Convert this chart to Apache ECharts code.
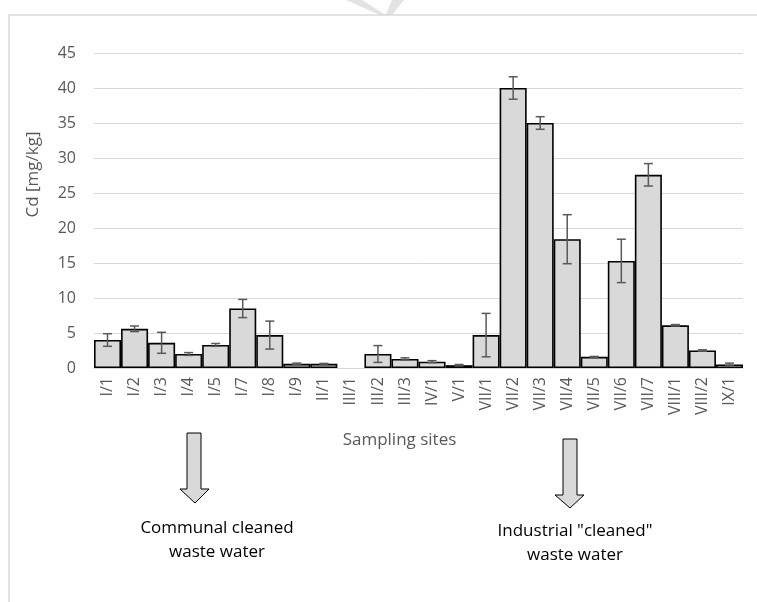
<!DOCTYPE html>
<html>
<head>
<meta charset="utf-8">
<script src="https://cdn.jsdelivr.net/npm/echarts@6/dist/echarts.min.js"></script>
<style>html,body{margin:0;padding:0;background:#fff}#c{width:757px;height:602px}</style>
</head>
<body>
<div id="c"></div>
<script>
const categories = ['I/1','I/2','I/3','I/4','I/5','I/7','I/8','I/9','II/1','III/1','III/2','III/3','IV/1','V/1','VII/1','VII/2','VII/3','VII/4','VII/5','VII/6','VII/7','VIII/1','VIII/2','IX/1'];
const cdValues = [4.0,5.6,3.6,2.0,3.3,8.5,4.7,0.6,0.6,0,2.0,1.3,0.9,0.4,4.7,40.0,35.0,18.4,1.6,15.3,27.6,6.1,2.5,0.5];
const cdErrors = [0.9,0.4,1.5,0.2,0.2,1.3,2.0,0.1,0.05,0,1.2,0.15,0.15,0.1,3.1,1.6,0.9,3.5,0.05,3.1,1.6,0.1,0.1,0.2];
const yTicks = [0,5,10,15,20,25,30,35,40,45];

const chart = echarts.init(document.getElementById('c'), null, {renderer:'canvas'});
const font = 'Open Sans';
const errData = categories.map((c,i)=>[i, cdValues[i], cdErrors[i]]);
const barData = cdValues.map(v => v === 0 ? '-' : v);

chart.setOption({
  backgroundColor:'#fff',
  animation:false,
  grid:{left:94, right:14, top:53, bottom:234},
  xAxis:{
    type:'category', data:categories,
    axisLine:{show:true, lineStyle:{color:'#d9d9d9', width:1}},
    axisTick:{show:false},
    axisLabel:{rotate:90, color:'#595959', fontFamily:font, fontSize:16, margin:9, interval:0},
    name:'Sampling sites', nameLocation:'middle', nameGap:64,
    nameTextStyle:{color:'#595959', fontFamily:font, fontSize:17, padding:[0,38,0,0]}
  },
  yAxis:{
    type:'value', min:yTicks[0], max:yTicks[yTicks.length-1], interval:5,
    axisLine:{show:false}, axisTick:{show:false},
    splitLine:{lineStyle:{color:'#d9d9d9', width:1}},
    axisLabel:{color:'#595959', fontFamily:font, fontSize:16, margin:18},
    name:'Cd [mg/kg]', nameLocation:'middle', nameGap:52, nameRotate:90,
    nameTextStyle:{color:'#595959', fontFamily:font, fontSize:17, padding:[0,0,0,72]}
  },
  series:[
    {
      type:'bar', data:barData, barCategoryGap:'0%',
      itemStyle:{color:'#d9d9d9', borderColor:'#000', borderWidth:1.6}
    },
    {
      type:'custom', data:errData, z:5,
      renderItem:function(params, api){
        const x = api.value(0), v = api.value(1), e = api.value(2);
        if (!v) return;
        const top = api.coord([x, v+e]);
        const bot = api.coord([x, v-e]);
        const hw = 4.5;
        const st = {stroke:'#595959', lineWidth:1.5};
        return {type:'group', children:[
          {type:'line', shape:{x1:top[0], y1:top[1], x2:bot[0], y2:bot[1]}, style:st},
          {type:'line', shape:{x1:top[0]-hw, y1:top[1], x2:top[0]+hw, y2:top[1]}, style:st},
          {type:'line', shape:{x1:bot[0]-hw, y1:bot[1], x2:bot[0]+hw, y2:bot[1]}, style:st}
        ]};
      }
    }
  ],
  graphic:[
    {type:'polyline', shape:{points:[[9,602],[9,15],[757,15]]}, style:{stroke:'#d9d9d9', lineWidth:1.5, fill:null}},
    {type:'polygon', shape:{points:[[346,0],[362,0],[384,14],[386,14],[392,0],[404,0],[392,15],[380,15]]}, style:{fill:'#e3e3e3'}, z:-1},
    {type:'polygon', shape:{points:[[187,433],[201,433],[201,489],[209,489],[195,503],[180,489],[187,489]]}, style:{fill:'#d9d9d9', stroke:'#000', lineWidth:1}},
    {type:'polygon', shape:{points:[[563,439],[577,439],[577,495],[584,495],[570,508],[555,495],[563,495]]}, style:{fill:'#d9d9d9', stroke:'#000', lineWidth:1}},
    {type:'text', x:217, y:540, style:{text:'Communal cleaned\nwaste water', fill:'#000', font:'17px "Open Sans"', textAlign:'center', textVerticalAlign:'middle', lineHeight:24}},
    {type:'text', x:575, y:543, style:{text:'Industrial "cleaned"\nwaste water', fill:'#000', font:'17px "Open Sans"', textAlign:'center', textVerticalAlign:'middle', lineHeight:24}}
  ]
});
</script>
</body>
</html>
